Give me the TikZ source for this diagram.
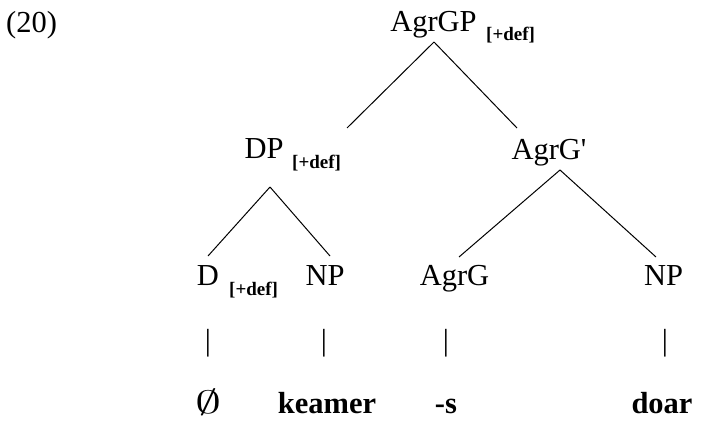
\documentclass[tikz,border=0pt]{standalone}
\usepackage{fontspec}
\usepackage{graphicx}
\setmainfont{Liberation Serif}
\begin{document}
\begin{tikzpicture}[x=1pt,y=-1pt,
  lbl/.style={inner sep=0pt, anchor=base, font=\fontsize{30.5}{36}\selectfont},
  word/.style={lbl, font=\fontsize{30.5}{36}\selectfont\bfseries},
  feat/.style={inner sep=0pt, anchor=base west, font=\fontsize{19}{22}\selectfont\bfseries},
  branch/.style={line width=1pt, black}]
\useasboundingbox (0,0) rectangle (711,420);

% example number
\node[lbl, anchor=base west] (exnum) at (6,33) {(20)};

% category labels
\node[lbl] (agrgp) at (433.5,32) {AgrGP};
\node[feat] (agrgpf) at (486,41) {[+def]};
\node[lbl] (dp) at (264,158) {DP};
\node[feat] (dpf) at (292,168) {[+def]};
\node[lbl] (agrgbar) at (549,159) {AgrG\textquotesingle};
\node[lbl] (d) at (208,285) {D};
\node[feat] (df) at (229,295) {[+def]};
\node[lbl] (np1) at (325,285) {NP};
\node[lbl] (agrg) at (454.5,285) {AgrG};
\node[lbl] (np2) at (663.5,285) {NP};

% vertical bars
\node[lbl] (bar1) at (208,350) {|};
\node[lbl] (bar2) at (324,350) {|};
\node[lbl] (bar3) at (446,350) {|};
\node[lbl] (bar4) at (665,350) {|};

% terminal words
\node[lbl] (w1) at (209,413) {\scalebox{2.1}[1.3]{$\emptyset$}};
\node[word] (w2) at (327,413) {keamer};
\node[word] (w3) at (446,413) {-s};
\node[word] (w4) at (662,413) {doar};

% branch end points
\coordinate (agrgp-foot) at (434,42);
\coordinate (dp-head) at (347,128);
\coordinate (agrgbar-head) at (517,128);
\coordinate (dp-foot) at (270,187);
\coordinate (d-head) at (208,256);
\coordinate (np1-head) at (330,256);
\coordinate (agrgbar-foot) at (560,170);
\coordinate (agrg-head) at (459,257);
\coordinate (np2-head) at (656,257);

\draw[branch] (agrgp-foot) -- (dp-head);
\draw[branch] (agrgp-foot) -- (agrgbar-head);
\draw[branch] (dp-foot) -- (d-head);
\draw[branch] (dp-foot) -- (np1-head);
\draw[branch] (agrgbar-foot) -- (agrg-head);
\draw[branch] (agrgbar-foot) -- (np2-head);
\end{tikzpicture}
\end{document}
